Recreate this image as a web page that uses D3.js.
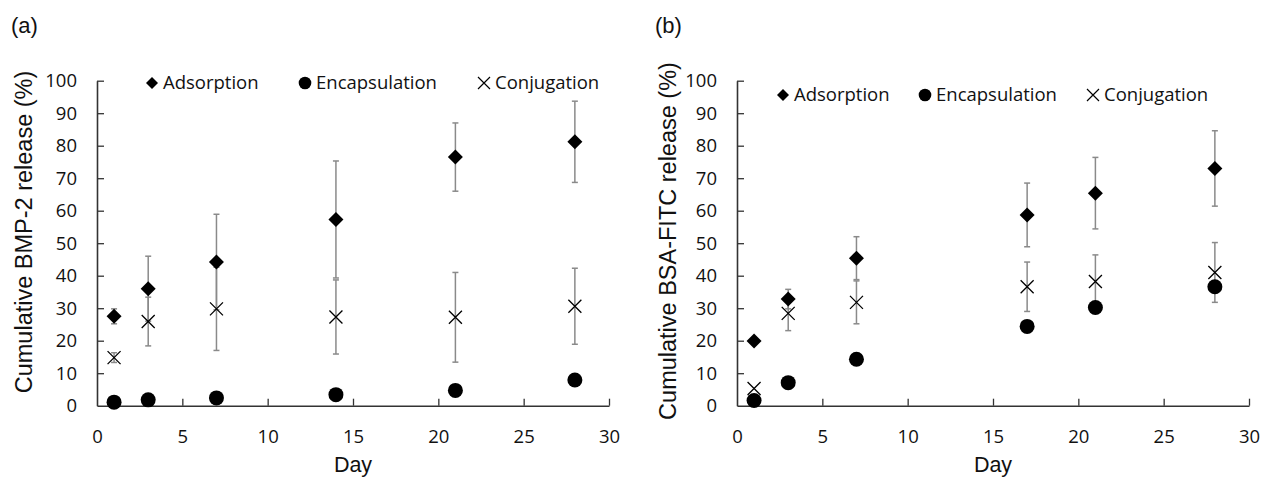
<!DOCTYPE html>
<html>
<head>
<meta charset="utf-8">
<script src="https://cdn.jsdelivr.net/npm/d3@7"></script>
<style>
  html, body { margin: 0; padding: 0; background: #fff; }
  svg { display: block; }
</style>
</head>
<body>
<svg id="chart" width="1265" height="478"></svg>
<script>
// ---------- data ----------
const seriesNames = ["Adsorption", "Encapsulation", "Conjugation"];
const xTicks = [0, 5, 10, 15, 20, 25, 30];
const yTicks = [0, 10, 20, 30, 40, 50, 60, 70, 80, 90, 100];

// Panel (a): BMP-2
const daysA = [1, 3, 7, 14, 21, 28];
const adsA = [27.5, 36.0, 44.2, 57.3, 76.5, 81.2];
const adsAErr = [2.3, 10.0, 14.7, 18.0, 10.5, 12.5];
const encA = [1.1, 1.8, 2.4, 3.4, 4.7, 7.9];
const encAErr = [0, 0, 0, 0, 0, 0];
const conA = [14.8, 25.9, 29.8, 27.3, 27.2, 30.6];
const conAErr = [1.5, 7.5, 12.8, 11.4, 13.8, 11.7];

// Panel (b): BSA-FITC
const daysB = [1, 3, 7, 17, 21, 28];
const adsB = [19.9, 32.8, 45.4, 58.7, 65.4, 73.0];
const adsBErr = [0.5, 3.0, 6.6, 9.8, 11.0, 11.6];
const encB = [1.6, 7.1, 14.3, 24.4, 30.2, 36.6];
const encBErr = [0, 0, 0, 0, 0, 0];
const conB = [5.3, 28.4, 31.8, 36.6, 38.2, 41.0];
const conBErr = [0, 5.3, 6.6, 7.6, 8.2, 9.2];

const panels = [
  { label: "(a)", ytitle: "Cumulative BMP-2 release (%)", days: daysA,
    ads: adsA, adsErr: adsAErr, enc: encA, encErr: encAErr, con: conA, conErr: conAErr,
    x0: 97, labelX: 11, titleX: 32, titleY: 232, legendY: 83, legendX: [152, 305, 484] },
  { label: "(b)", ytitle: "Cumulative BSA-FITC release (%)", days: daysB,
    ads: adsB, adsErr: adsBErr, enc: encB, encErr: encBErr, con: conB, conErr: conBErr,
    x0: 737, labelX: 655, titleX: 676, titleY: 241, legendY: 95, legendX: [783, 925, 1093] }
];

const svg = d3.select("#chart");
const tickFont = "'Open Sans', sans-serif";
const titleFont = "'Liberation Sans', Arial, sans-serif";
const axisColor = "#333";
const errColor = "#8a8a8a";
const plotW = 512, yTop = 80.7, yBot = 405.7;

function diamond(g, cx, cy, r) {
  g.append("path")
    .attr("d", `M${cx},${cy - r}L${cx + r},${cy}L${cx},${cy + r}L${cx - r},${cy}Z`)
    .attr("fill", "#000");
}
function cross(g, cx, cy, r, w) {
  g.append("path")
    .attr("d", `M${cx - r},${cy - r}L${cx + r},${cy + r}M${cx - r},${cy + r}L${cx + r},${cy - r}`)
    .attr("stroke", "#000").attr("stroke-width", w).attr("fill", "none");
}

panels.forEach(p => {
  const x = d3.scaleLinear().domain([0, 30]).range([p.x0, p.x0 + plotW]);
  const y = d3.scaleLinear().domain([0, 100]).range([yBot, yTop]);
  const g = svg.append("g");

  // panel label
  g.append("text").attr("x", p.labelX).attr("y", 33)
    .attr("font-family", titleFont).attr("font-size", 22).attr("fill", "#111")
    .text(p.label);

  // axes
  const yAxis = d3.axisLeft(y).tickValues(yTicks).tickSizeInner(-7).tickSizeOuter(0).tickPadding(20);
  const gy = g.append("g").attr("transform", `translate(${p.x0},0)`).call(yAxis);
  const xAxis = d3.axisBottom(x).tickValues(xTicks).tickSizeInner(-7).tickSizeOuter(0).tickPadding(21);
  const gx = g.append("g").attr("transform", `translate(0,${yBot})`).call(xAxis);
  [gx, gy].forEach(a => {
    a.select(".domain").attr("stroke", axisColor).attr("stroke-width", 1.6);
    a.selectAll(".tick line").attr("stroke", axisColor).attr("stroke-width", 1.3);
    a.selectAll(".tick text").attr("font-family", tickFont).attr("font-size", 18.5).attr("fill", "#111");
  });
  gx.selectAll(".tick text").attr("dy", "0.35em").attr("y", 31);
  gx.selectAll(".tick").filter(d => d === 0).select("line").remove();
  gy.selectAll(".tick").filter(d => d === 0).select("line").remove();

  // axis titles
  g.append("text")
    .attr("transform", `translate(${p.titleX},${p.titleY}) rotate(-90)`)
    .attr("text-anchor", "middle")
    .attr("font-family", titleFont).attr("font-size", 23.5).attr("fill", "#111")
    .text(p.ytitle);
  g.append("text").attr("x", x(15)).attr("y", 472)
    .attr("text-anchor", "middle")
    .attr("font-family", titleFont).attr("font-size", 21.5).attr("fill", "#111")
    .text("Day");

  // error bars
  const eb = g.append("g");
  const errSets = [[p.ads, p.adsErr], [p.enc, p.encErr], [p.con, p.conErr]];
  errSets.forEach(([vals, errs]) => {
    p.days.forEach((d, i) => {
      if (!errs[i]) return;
      const cx = x(d), y1 = y(vals[i] + errs[i]), y2 = y(vals[i] - errs[i]);
      eb.append("line").attr("x1", cx).attr("x2", cx).attr("y1", y1).attr("y2", y2)
        .attr("stroke", errColor).attr("stroke-width", 1.5);
      [y1, y2].forEach(yy => eb.append("line").attr("x1", cx - 3).attr("x2", cx + 3)
        .attr("y1", yy).attr("y2", yy).attr("stroke", errColor).attr("stroke-width", 1.5));
    });
  });

  // markers: crosses, diamonds, circles
  const mk = g.append("g");
  p.days.forEach((d, i) => cross(mk, x(d), y(p.con[i]), 6.5, 1.3));
  p.days.forEach((d, i) => diamond(mk, x(d), y(p.ads[i]), 7.5));
  p.days.forEach((d, i) => mk.append("circle").attr("cx", x(d)).attr("cy", y(p.enc[i])).attr("r", 7.5).attr("fill", "#000"));

  // legend
  const lg = g.append("g");
  const ly = p.legendY;
  diamond(lg, p.legendX[0], ly, 6);
  lg.append("circle").attr("cx", p.legendX[1]).attr("cy", ly).attr("r", 6.3).attr("fill", "#000");
  cross(lg, p.legendX[2], ly, 6, 1.2);
  seriesNames.forEach((s, i) => {
    lg.append("text").attr("x", p.legendX[i] + 11).attr("y", ly).attr("dy", "0.35em")
      .attr("font-family", tickFont).attr("font-size", 18.5).attr("fill", "#111")
      .text(s);
  });
});
</script>
</body>
</html>
